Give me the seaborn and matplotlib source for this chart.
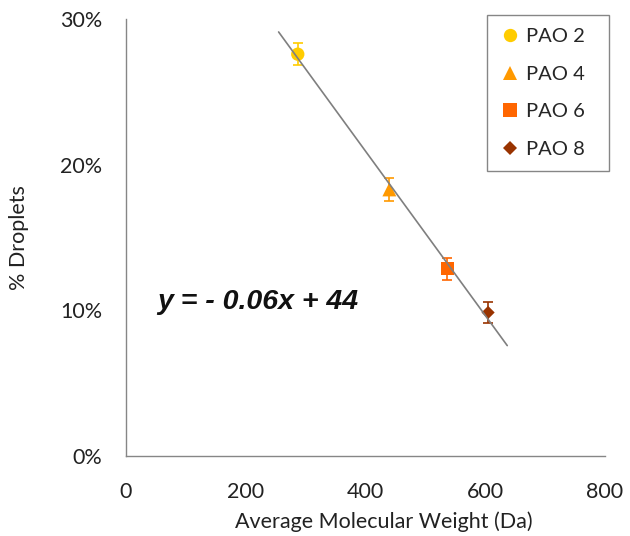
import matplotlib
matplotlib.use("Agg")
import numpy as np
import pandas as pd
import seaborn as sns
import matplotlib.pyplot as plt
from matplotlib.ticker import FuncFormatter

samples = ["PAO 2", "PAO 4", "PAO 6", "PAO 8"]
mol_weight = [287, 440, 537, 605]
droplets = [27.6, 18.3, 12.85, 9.84]
errors = [0.75, 0.78, 0.77, 0.74]
colors = ["#FFCC00", "#FF9900", "#FF6600", "#993300"]
markers = ["o", "^", "s", "D"]
marker_sizes = [92, 100, 92, 45]
x_ticks = [0, 200, 400, 600, 800]
y_ticks = [0, 10, 20, 30]
equation = "y = - 0.06x + 44"

df = pd.DataFrame({"sample": samples, "mw": mol_weight, "drop": droplets, "err": errors})

sns.set_theme(style="white")
plt.rcParams["font.family"] = ["Lato", "DejaVu Sans"]

fig = plt.figure(figsize=(6.3, 5.36), dpi=100)
ax = fig.add_axes([0.2, 0.15, 0.76, 0.814])

sns.scatterplot(data=df, x="mw", y="drop", hue="sample", style="sample", size="sample",
                palette=dict(zip(samples, colors)), markers=dict(zip(samples, markers)),
                sizes=dict(zip(samples, marker_sizes)), linewidth=0, ax=ax, zorder=3)

for xv, yv, e, c in zip(mol_weight, droplets, errors, colors):
    ax.errorbar(xv, yv, yerr=e, fmt="none", ecolor=c, elinewidth=1.2, capsize=3.5, capthick=1.2, zorder=4)

coef = np.polyfit(mol_weight, droplets, 1)
xs = np.array([min(mol_weight) - 32, max(mol_weight) + 32])
ax.plot(xs, np.polyval(coef, xs), color="#7f7f7f", lw=1.2, zorder=5)

ax.text(52, 10.56, equation, ha="left", va="center", fontsize=20.5, fontweight="bold",
        fontstyle="italic", family=["Liberation Sans", "DejaVu Sans"], color="#111111")

ax.set_xlim(0, 800)
ax.set_ylim(0, 30)
ax.set_xticks(x_ticks)
ax.set_yticks(y_ticks)
ax.yaxis.set_major_formatter(FuncFormatter(lambda v, p: f"{v:.0f}%"))
ax.set_xlabel("Average Molecular Weight (Da)", fontsize=15.5, color="#222222")
ax.xaxis.set_label_coords(0.5376, -0.128)
ax.set_ylabel("% Droplets", fontsize=15.5, color="#222222", labelpad=22)
ax.tick_params(axis="both", direction="out", length=5.8, width=1, color="#868686",
               labelsize=15.5, labelcolor="#222222")
ax.tick_params(axis="x", pad=13)
ax.tick_params(axis="y", pad=11.5)
for s in ["top", "right"]:
    ax.spines[s].set_visible(False)
for s in ["left", "bottom"]:
    ax.spines[s].set_color("#868686")
    ax.spines[s].set_linewidth(1)

handles, labels = ax.get_legend_handles_labels()
hl = [(h, l) for h, l in zip(handles, labels) if l in samples]
leg = ax.legend([h for h, _ in hl], [l for _, l in hl], loc="upper left",
                bbox_to_anchor=(487 / 630, 1 - 165 / 536, 122 / 630, 150 / 536),
                bbox_transform=fig.transFigure, mode="expand",
                borderaxespad=0, fontsize=14.5, frameon=True, fancybox=False,
                edgecolor="#868686", framealpha=1, labelspacing=1.02, handletextpad=0.3,
                borderpad=0.65, handlelength=1.0)
leg.get_frame().set_linewidth(1)

fig.savefig("out.png", dpi=100)
